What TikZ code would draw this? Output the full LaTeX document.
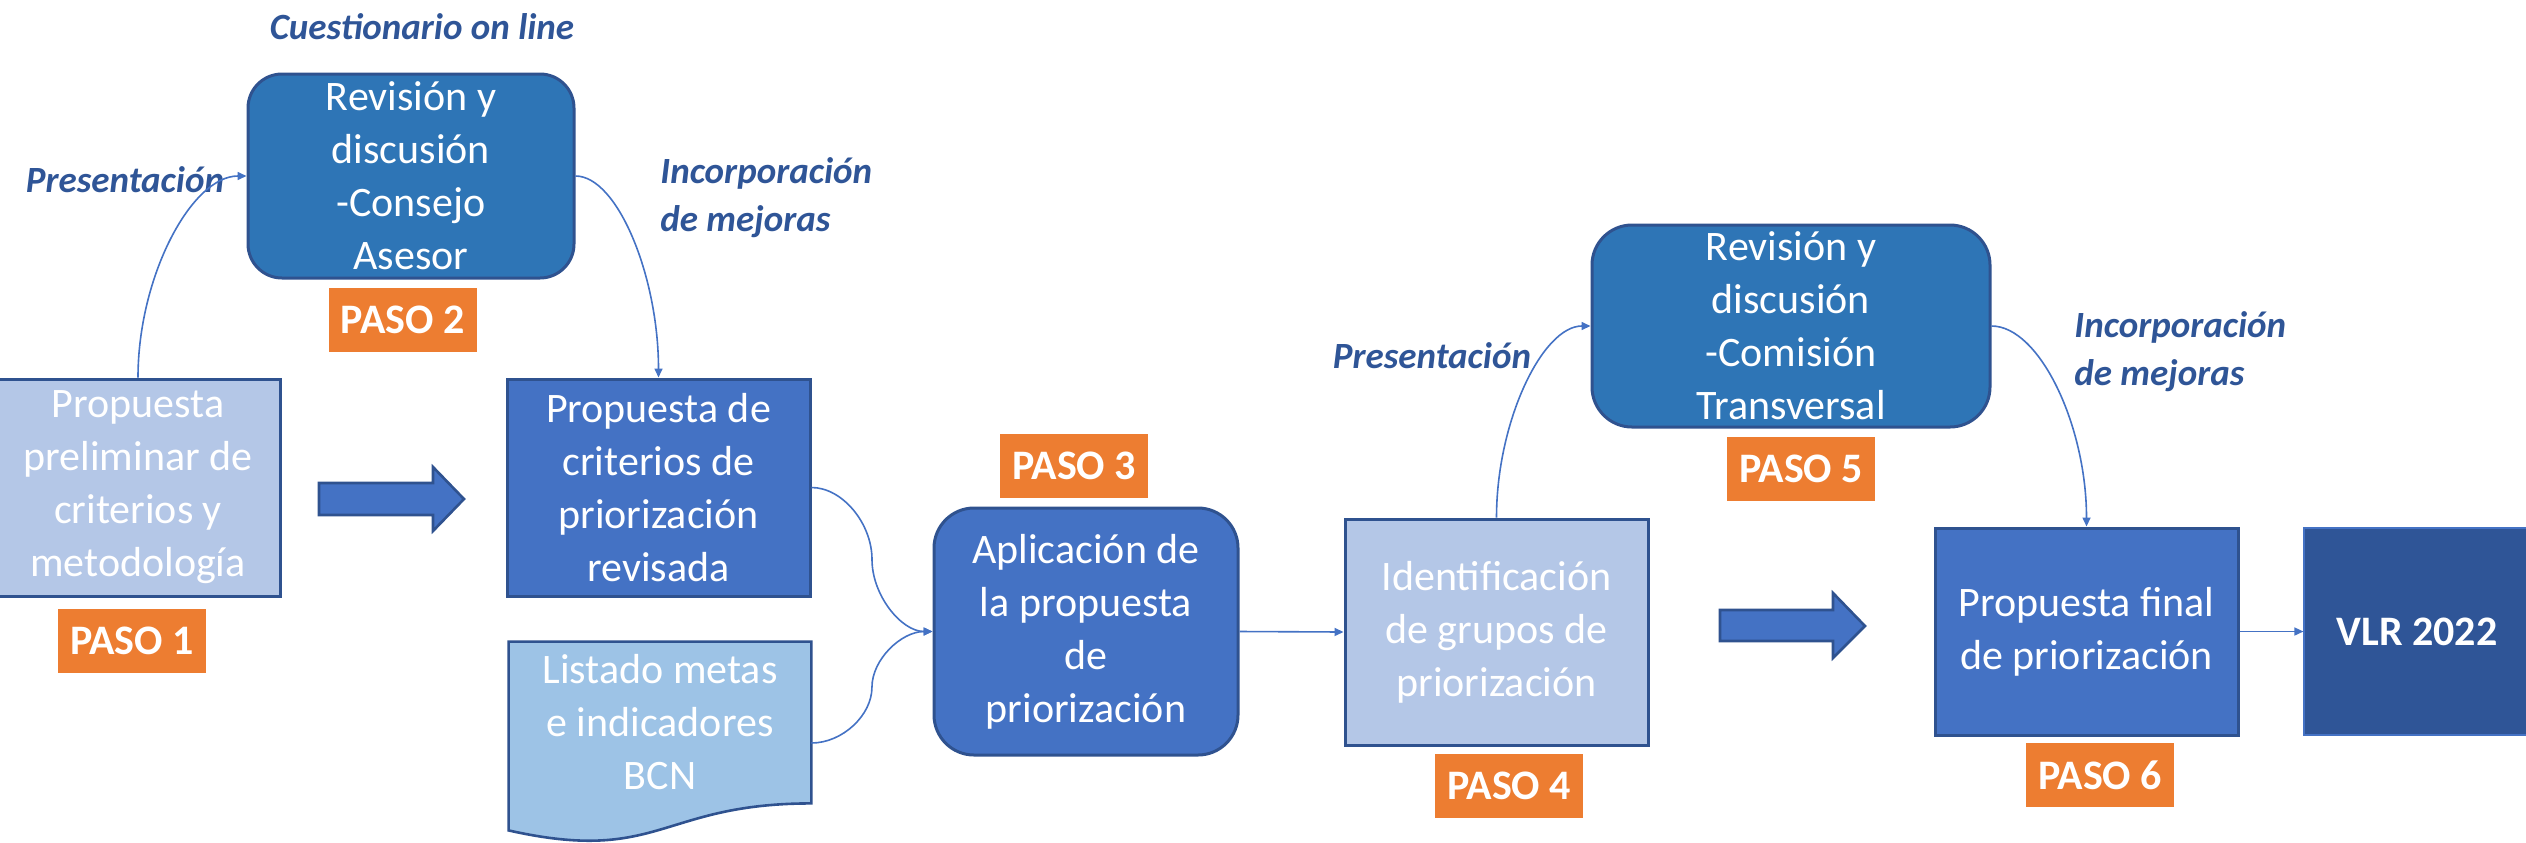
\documentclass[tikz,border=0pt]{standalone}
\usepackage{fontspec}
\setmainfont{Carlito}
\usetikzlibrary{arrows.meta,calc}
\definecolor{revfill}{HTML}{2E75B6}
\definecolor{edgeblue}{HTML}{2F528F}
\definecolor{lightfill}{HTML}{B4C7E7}
\definecolor{midfill}{HTML}{4472C4}
\definecolor{docfill}{HTML}{9DC3E6}
\definecolor{vlrfill}{HTML}{2F5597}
\definecolor{pasofill}{HTML}{ED7D31}
\definecolor{labelblue}{HTML}{2F5597}
\tikzset{
  boxtext/.style={text=white, align=center, inner sep=0pt,
    font=\fontsize{21}{26.5}\selectfont},
  lightbox/.style={boxtext, rectangle, fill=lightfill, draw=edgeblue, line width=1.5pt},
  midbox/.style={boxtext, rectangle, fill=midfill, draw=edgeblue, line width=1.5pt},
  revbox/.style={boxtext, rectangle, rounded corners=17pt, fill=revfill, draw=edgeblue, line width=1.5pt},
  pasobox/.style={rectangle, fill=pasofill, text=white, inner sep=0pt,
    minimum width=74pt, minimum height=32pt, font=\fontsize{21}{24}\selectfont\bfseries},
  steplabel/.style={text=labelblue, inner sep=0pt, align=left,
    font=\fontsize{18.5}{24}\selectfont\bfseries\itshape},
  conn/.style={draw=midfill, line width=0.8pt, -{Triangle[length=4.5pt,width=4pt]}},
  blockarrow/.style={fill=midfill, draw=edgeblue, line width=1.3pt, line join=miter},
  docshape/.style={fill=docfill, draw=edgeblue, line width=1.3pt},
}
\begin{document}
\begin{tikzpicture}[x=0.5pt,y=0.5pt]
\useasboundingbox (0,0) rectangle (2526,-842);

% top review boxes
\node[revbox, minimum width=163pt, minimum height=102pt] (top1) at (411,-176)
  {Revisión y\\discusión\\-Consejo\\Asesor};
\node[revbox, rounded corners=20pt, minimum width=199pt, minimum height=101pt] (top2) at (1791,-326)
  {Revisión y\\discusión\\-Comisión\\Transversal};

% main boxes
\node[lightbox, minimum width=142pt, minimum height=108.5pt] (p1) at (138,-487.5)
  {Propuesta\\preliminar de\\criterios y\\metodología};
\node[midbox, minimum width=151.5pt, minimum height=108.5pt] (p2) at (658.5,-487.5)
  {Propuesta de\\criterios de\\priorización\\revisada};
\node[midbox, rounded corners=20pt, minimum width=152pt, minimum height=123.5pt] (apl) at (1086,-631.5)
  {Aplicación de\\la propuesta\\de\\priorización};
\node[lightbox, minimum width=151.5pt, minimum height=113pt] (idf) at (1496.5,-632)
  {Identificación\\de grupos de\\priorización};
\node[midbox, minimum width=151.5pt, minimum height=103.5pt] (pf) at (2086.5,-631.5)
  {Propuesta final\\de priorización};
\node[boxtext, rectangle, fill=vlrfill, draw=midfill, line width=0.6pt,
  minimum width=113pt, minimum height=103.5pt, font=\fontsize{21}{26.5}\selectfont\bfseries] (vlr) at (2417,-631.5)
  {VLR 2022};

% document shape (Listado)
\node[boxtext, minimum width=151pt, minimum height=80.5pt] (lst) at (660,-722.5) {};
\path[docshape] (lst.north west) -- (lst.north east) -- (lst.south east)
  .. controls (lst.south) and ($(lst.south)+(0,-61)$) .. ($(lst.south west)+(0,-27)$) -- cycle;
\node[boxtext] (lsttext) at (lst.center) {Listado metas\\e indicadores\\BCN};
\coordinate (lstout) at ([yshift=-10.25pt]lst.east);

% PASO labels
\node[pasobox] (paso1) at (132,-641) {PASO 1};
\node[pasobox] (paso2) at (402.5,-320) {PASO 2};
\node[pasobox] (paso3) at (1074,-466) {PASO 3};
\node[pasobox] (paso4) at (1509,-786) {PASO 4};
\node[pasobox] (paso5) at (1801,-469) {PASO 5};
\node[pasobox] (paso6) at (2100,-775) {PASO 6};

% italic labels
\node[steplabel] (cuest) at (422,-27) {Cuestionario on line};
\node[steplabel] (pres1) at (125,-180) {Presentación};
\node[steplabel, anchor=west] (inc1) at (660,-198) {Incorporación\\de mejoras};
\node[steplabel] (pres2) at (1432,-356) {Presentación};
\node[steplabel, anchor=west] (inc2) at (2074,-352) {Incorporación\\de mejoras};

% block arrows
\path[blockarrow] (319,-483) -- (433,-483) -- (433,-467) -- (464,-499) -- (433,-531) -- (433,-515) -- (319,-515) -- cycle;
\path[blockarrow] (1720,-610) -- (1833,-610) -- (1833,-593) -- (1865,-626) -- (1833,-658) -- (1833,-641) -- (1720,-641) -- cycle;

% connectors
\draw[conn] (p1.north) .. controls +(0,101) and +(-55,0) .. (top1.west);
\draw[conn] (top1.east) .. controls +(42,0) and +(0,101) .. (p2.north);
\coordinate (m1) at ($(p2.east)!0.5!(apl.west)$);
\coordinate (m2) at ($(lstout)!0.5!(apl.west)$);
\draw[conn] (p2.east) .. controls +(31,0) and +(0,36) .. (m1) .. controls +(0,-36) and +(-31,0) .. (apl.west);
\draw[conn] (lstout) .. controls +(31,0) and +(0,-28) .. (m2) .. controls +(0,28) and +(-31,0) .. (apl.west);
\draw[conn] (apl.east) -- (idf.west);
\draw[conn] (idf.north) .. controls +(0,96) and +(-48,0) .. (top2.west);
\draw[conn] (top2.east) .. controls +(48,0) and +(0,101) .. (pf.north);
\draw[conn] (pf.east) -- (vlr.west);
\end{tikzpicture}
\end{document}
